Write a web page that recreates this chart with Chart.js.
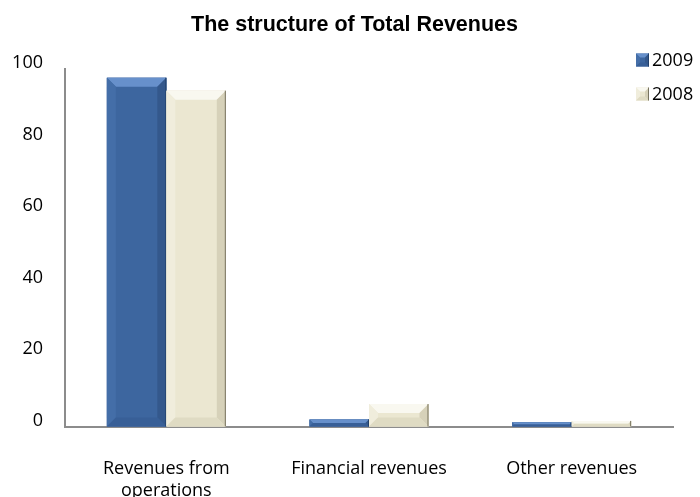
<!DOCTYPE html>
<html>
<head>
<meta charset="utf-8">
<title>The structure of Total Revenues</title>
<script src="https://cdn.jsdelivr.net/npm/chart.js@4"></script>
<style>
  body { margin: 0; background: #fff; }
  canvas { display: block; }
</style>
</head>
<body>
<canvas id="revenue-chart" width="700" height="497"></canvas>
<script>
// Chart data
const categories = [['Revenues from', 'operations'], 'Financial revenues', 'Other revenues'];
const seriesLabels = ['2009', '2008'];
const values2009 = [97.5, 2.1, 1.3];
const values2008 = [93.9, 6.4, 1.7];
const yTicks = [0, 20, 40, 60, 80, 100];

// Bevel colours for each series (face, top, left, right, bottom, edge)
const bevelColors = [
  { face: '#3d669f', top: '#6790cb', left: '#446ea8', right: '#34588c', bottom: '#385f97', edge: '#22406b' },
  { face: '#ebe7d1', top: '#f9f8f0', left: '#f0eddc', right: '#d6d1b9', bottom: '#dfdbc3', edge: '#77735f' }
];

const axisFont = { family: '"Open Sans", "Liberation Sans", sans-serif', size: 18 };

// fill a polygon from a list of points
function poly(ctx, pts, color) {
  ctx.beginPath();
  ctx.moveTo(pts[0][0], pts[0][1]);
  for (let i = 1; i < pts.length; i++) ctx.lineTo(pts[i][0], pts[i][1]);
  ctx.closePath();
  ctx.fillStyle = color;
  ctx.fill();
}

// Draw the Excel-like bevel over a rectangle
function drawBevel(ctx, l, t, r, b, size, c) {
  const d = Math.min(size, (r - l) / 2, (b - t) / 2);
  poly(ctx, [[l, t], [r, t], [r, b], [l, b]], c.face);
  if (d > 0.5) {
    poly(ctx, [[l, t], [r, t], [r - d, t + d], [l + d, t + d]], c.top);
    poly(ctx, [[l, t], [l + d, t + d], [l + d, b - d], [l, b]], c.left);
    poly(ctx, [[r, t], [r, b], [r - d, b - d], [r - d, t + d]], c.right);
    poly(ctx, [[l, b], [l + d, b - d], [r - d, b - d], [r, b]], c.bottom);
  }
  ctx.strokeStyle = c.edge;
  ctx.lineWidth = 1;
  ctx.beginPath();
  ctx.moveTo(r - 0.5, t);
  ctx.lineTo(r - 0.5, b);
  ctx.stroke();
}

// Plugin: bevelled bars
const bevelPlugin = {
  id: 'bevel',
  afterDatasetsDraw(chart) {
    const ctx = chart.ctx;
    ctx.save();
    chart.data.datasets.forEach((ds, i) => {
      const meta = chart.getDatasetMeta(i);
      meta.data.forEach((bar) => {
        const p = bar.getProps(['x', 'y', 'base', 'width'], true);
        const top = Math.min(p.y, p.base);
        const bottom = Math.max(p.y, p.base);
        drawBevel(ctx, p.x - p.width / 2, top, p.x + p.width / 2, bottom, 9, bevelColors[i]);
      });
    });
    ctx.restore();
  }
};

// Plugin: shift the title block so it is centred like the original
const titleShift = {
  id: 'titleShift',
  afterLayout(chart) {
    const t = chart.titleBlock;
    if (t) {
      t.left = 36;
      t.width = t.right - t.left;
    }
  }
};

// Plugin: legend at the top right
const legendPlugin = {
  id: 'cornerLegend',
  afterDraw(chart) {
    const ctx = chart.ctx;
    const x = 636;
    const rowY = [60, 94];
    ctx.save();
    chart.data.datasets.forEach((ds, i) => {
      const y = rowY[i];
      drawBevel(ctx, x, y - 6.5, x + 13, y + 6.5, 4, bevelColors[i]);
      ctx.fillStyle = '#000';
      ctx.font = '18px "Open Sans", "Liberation Sans", sans-serif';
      ctx.textAlign = 'left';
      ctx.textBaseline = 'middle';
      ctx.fillText(ds.label, x + 16, y + 1);
    });
    ctx.restore();
  }
};

new Chart(document.getElementById('revenue-chart'), {
  type: 'bar',
  data: {
    labels: categories,
    datasets: [
      { label: seriesLabels[0], data: values2009, backgroundColor: bevelColors[0].face },
      { label: seriesLabels[1], data: values2008, backgroundColor: bevelColors[1].face }
    ]
  },
  options: {
    responsive: false,
    animation: false,
    layout: { padding: { left: 0, right: 27, top: 0, bottom: 0 } },
    datasets: {
      bar: { barPercentage: 1, categoryPercentage: 0.587 }
    },
    plugins: {
      legend: { display: false },
      tooltip: { enabled: false },
      title: {
        display: true,
        text: 'The structure of Total Revenues',
        color: '#000',
        font: { family: '"Liberation Sans", Arial, sans-serif', size: 21.5, weight: 'bold' },
        padding: { top: 12, bottom: 31 }
      }
    },
    scales: {
      x: {
        grid: { display: true, drawOnChartArea: false, drawTicks: false },
        border: { display: true, color: '#8c8c8c', width: 2 },
        ticks: { color: '#000', font: { ...axisFont, lineHeight: 1.2 }, padding: 31, maxRotation: 0, autoSkip: false },
        afterFit: (scale) => { scale.height = 70; }
      },
      y: {
        min: yTicks[0],
        max: yTicks[yTicks.length - 1],
        grid: { display: true, drawOnChartArea: false, drawTicks: false },
        border: { display: true, color: '#8c8c8c', width: 2 },
        ticks: {
          stepSize: yTicks[1] - yTicks[0],
          color: '#000',
          font: axisFont,
          padding: 22,
          labelOffset: -6
        },
        afterFit: (scale) => { scale.width = 65; }
      }
    }
  },
  plugins: [bevelPlugin, titleShift, legendPlugin]
});
</script>
</body>
</html>
